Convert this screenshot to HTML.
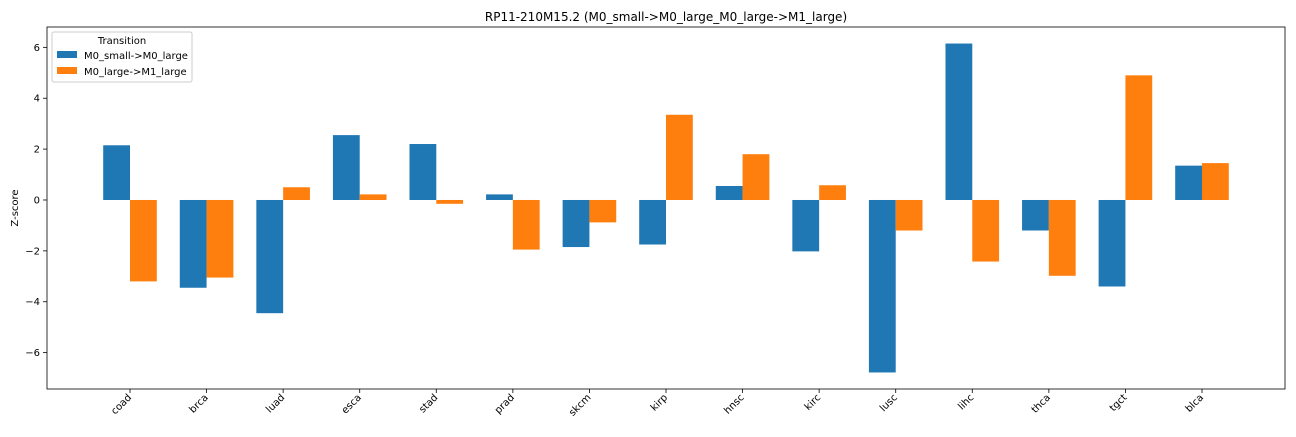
<!DOCTYPE html>
<html><head><meta charset="utf-8"><style>
body{margin:0;background:#fff;font-family:"Liberation Sans","DejaVu Sans",sans-serif;}
svg text{font-family:"DejaVu Sans","Liberation Sans",sans-serif;}
</style></head><body>
<svg id="chart" width="1296" height="432" xmlns="http://www.w3.org/2000/svg">
<text x="666" y="21" font-size="12" text-anchor="middle">RP11-210M15.2 (M0_small-&gt;M0_large_M0_large-&gt;M1_large)</text>
<g id="bars"></g>
<g id="axes"></g>
<rect x="47" y="27" width="1238" height="362" fill="none" stroke="#000" stroke-width="0.8"/>
<text transform="translate(18,208) rotate(-90)" font-size="10" text-anchor="middle">Z-score</text>
<g>
<rect x="52" y="32" width="140" height="50" fill="#fff" stroke="#ccc" rx="2"/>
<text x="122" y="44" font-size="10" text-anchor="middle">Transition</text>
<rect x="57" y="51" width="20" height="7" fill="#1f77b4"/>
<text x="84" y="59" font-size="10">M0_small-&gt;M0_large</text>
<rect x="57" y="67" width="20" height="7" fill="#ff7f0e"/>
<text x="84" y="75" font-size="10">M0_large-&gt;M1_large</text>
</g>
</svg>
<script>
const categories=["coad","brca","luad","esca","stad","prad","skcm","kirp","hnsc","kirc","lusc","lihc","thca","tgct","blca"];
const seriesA=[2.15,-3.45,-4.45,2.55,2.2,0.22,-1.85,-1.75,0.55,-2.02,-6.78,6.15,-1.2,-3.4,1.35];
const seriesB=[-3.2,-3.05,0.5,0.22,-0.15,-1.95,-0.88,3.35,1.8,0.58,-1.2,-2.42,-2.98,4.9,1.45];
const yTicks=[-6,-4,-2,0,2,4,6];
const NS="http://www.w3.org/2000/svg";
const L=47,R=1285,T=27,B=389;
const xMin=-1.084,xMax=15.084,yMin=-7.43,yMax=6.8;
const xs=v=>L+(v-xMin)/(xMax-xMin)*(R-L);
const ys=v=>B-(v-yMin)/(yMax-yMin)*(B-T);
const bars=document.getElementById('bars'),axes=document.getElementById('axes');
function mk(tag,attrs,parent){const e=document.createElementNS(NS,tag);for(const k in attrs)e.setAttribute(k,attrs[k]);parent.appendChild(e);return e;}
const w=0.35;
categories.forEach((c,i)=>{
  [[seriesA,"#1f77b4",-w/2,"a"],[seriesB,"#ff7f0e",w/2,"b"]].forEach(([s,col,off,tag])=>{
    const v=s[i];const x0=xs(i+off-w/2),x1=xs(i+off+w/2);
    const y0=ys(Math.max(v,0)),y1=ys(Math.min(v,0));
    const r=mk('rect',{x:x0,y:y0,width:x1-x0,height:y1-y0,fill:col},bars);
    
    
  });
  const x=xs(i);
  mk('line',{x1:x,x2:x,y1:B,y2:B+4,stroke:'#000','stroke-width':0.8},axes);
  const t=mk('text',{x:0,y:0,'font-size':10,'text-anchor':'end',transform:`translate(${x+2},${B+9}) rotate(-45)`},axes);
  t.textContent=c;
  
  
});
yTicks.forEach(v=>{
  const y=ys(v);
  mk('line',{x1:L-4,x2:L,y1:y,y2:y,stroke:'#000','stroke-width':0.8},axes);
  const t=mk('text',{x:L-7,y:y+3.5,'font-size':10,'text-anchor':'end'},axes);
  t.textContent=v<0?'\u2212'+Math.abs(v):String(v);
  
  
});
</script>
</body></html>
